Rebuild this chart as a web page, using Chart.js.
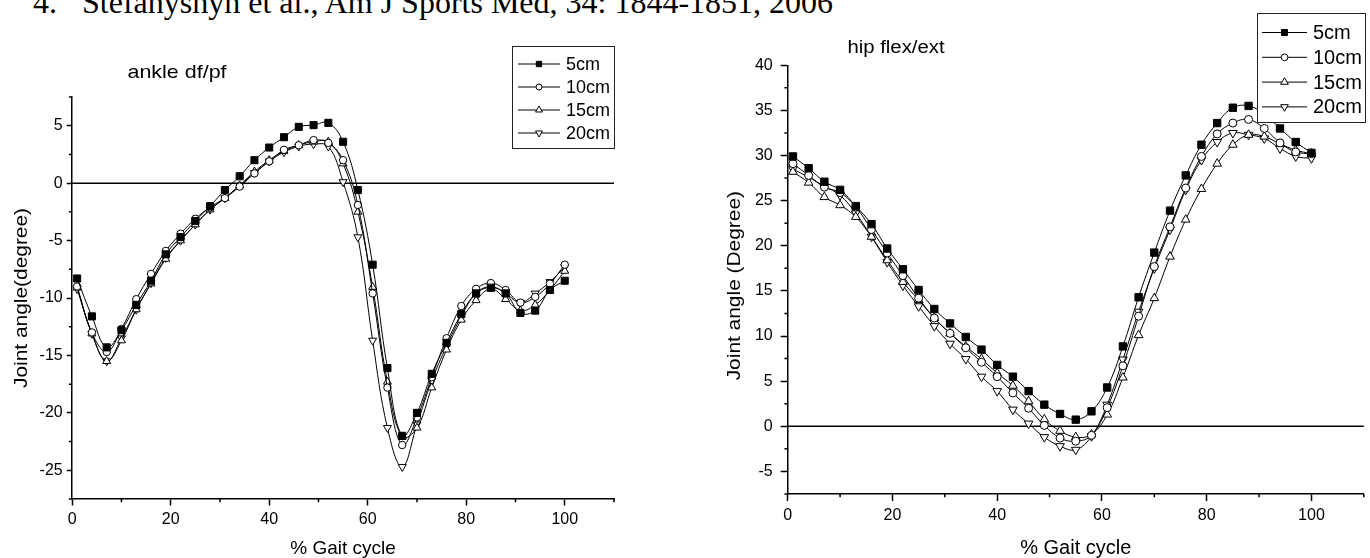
<!DOCTYPE html>
<html>
<head>
<meta charset="utf-8">
<script src="https://cdn.jsdelivr.net/npm/chart.js@4/dist/chart.umd.min.js"></script>
<style>
  html, body { margin: 0; padding: 0; background: #fff; width: 1370px; height: 558px; overflow: hidden; }
  body { position: relative; }
  canvas { position: absolute; top: 0; }
  .ref { position: absolute; top: -14px; font: 32px/32px "Liberation Serif", "Times New Roman", serif; color: #000; white-space: nowrap; }
</style>
</head>
<body>
<div class="ref" style="left:33px">4.</div>
<div class="ref" style="left:82px">Stefanyshyn et al., Am J Sports Med, 34: 1844-1851, 2006</div>
<canvas id="ankle" width="640" height="558" style="left:0"></canvas>
<canvas id="hip" width="670" height="558" style="left:700px"></canvas>
<script>
const FONT = '"Liberation Sans", Arial, sans-serif';

// % gait cycle where each sample was taken
const gaitPct = [1, 4, 7, 10, 13, 16, 19, 22, 25, 28, 31, 34, 37, 40, 43, 46, 49, 52, 55, 58,
                 61, 64, 67, 70, 73, 76, 79, 82, 85, 88, 91, 94, 97, 100];

const seriesLabels = ['5cm', '10cm', '15cm', '20cm'];

// ankle df/pf (degree)
const ankle5  = [-8.3, -11.6, -14.3, -12.8, -10.6, -8.5, -6.2, -4.7, -3.3, -2.0, -0.6, 0.6, 2.0, 3.1, 4.0, 4.9, 5.05, 5.25, 3.6, -0.6,
                 -7.1, -16.1, -22.0, -20.0, -16.6, -13.9, -11.4, -9.6, -9.1, -9.6, -11.3, -11.1, -9.3, -8.5];
const ankle10 = [-9.0, -13.0, -14.7, -12.7, -10.1, -7.9, -5.9, -4.4, -3.1, -2.1, -1.3, -0.3, 0.85, 1.9, 2.9, 3.3, 3.75, 3.5, 2.0, -1.9,
                 -9.6, -17.8, -22.8, -20.4, -16.9, -13.5, -10.7, -9.2, -8.7, -9.3, -10.4, -9.9, -8.75, -7.1];
const ankle15 = [-9.1, -13.1, -15.5, -13.7, -11.0, -8.75, -6.6, -5.0, -3.6, -2.3, -1.3, -0.2, 1.0, 2.0, 2.8, 3.3, 3.6, 3.6, 1.7, -2.5,
                 -9.05, -17.3, -22.1, -21.3, -17.8, -14.5, -11.9, -10.2, -9.2, -10.1, -11.1, -10.6, -9.3, -7.65];
const ankle20 = [-9.2, -13.1, -15.5, -13.5, -11.0, -8.7, -6.5, -5.0, -3.6, -2.3, -1.3, -0.2, 0.9, 1.9, 2.7, 3.2, 3.4, 3.2, 0.1, -4.7,
                 -13.7, -21.3, -24.7, -21.0, -17.2, -14.2, -11.6, -9.6, -9.0, -9.6, -10.4, -9.6, -8.6, -7.3];

// hip flex/ext (degree)
const hip5  = [29.9, 28.6, 27.1, 26.2, 24.4, 22.4, 19.7, 17.4, 15.1, 13.0, 11.4, 9.9, 8.5, 6.8, 5.5, 3.9, 2.4, 1.37, 0.74, 1.66,
               4.3, 8.85, 14.3, 19.25, 23.9, 27.8, 31.2, 33.6, 35.3, 35.5, 34.6, 33.0, 31.5, 30.3];
const hip10 = [29.1, 27.8, 26.5, 25.9, 24.3, 21.8, 19.2, 16.7, 14.2, 12.0, 10.3, 8.7, 7.1, 5.5, 3.7, 2.0, 0.1, -1.3, -1.65, -1.0,
               2.07, 6.7, 12.2, 17.7, 22.1, 26.4, 29.9, 32.4, 33.6, 34.0, 33.0, 31.4, 30.4, 30.2];
const hip15 = [28.2, 27.0, 25.4, 24.5, 23.2, 21.0, 18.4, 16.0, 14.0, 12.0, 10.3, 8.85, 7.45, 5.9, 4.5, 2.77, 0.77, -0.5, -1.2, -0.9,
               1.3, 5.4, 10.1, 14.2, 18.8, 22.9, 26.3, 29.1, 31.2, 32.3, 32.1, 31.3, 30.6, 30.2];
const hip20 = [28.5, 27.6, 26.6, 25.6, 23.6, 21.0, 18.2, 15.6, 13.3, 11.1, 9.15, 7.45, 5.5, 3.9, 1.85, 0.3, -1.2, -2.2, -2.6, -1.1,
               2.4, 7.4, 12.7, 17.5, 21.8, 26.2, 29.5, 31.5, 32.5, 32.3, 31.9, 30.8, 29.9, 29.7];

const markStyles = ['rect', 'circle', 'triangle', 'triangle'];
const markRotation = [0, 0, 0, 180];
const markFill = ['#000', '#fff', '#fff', '#fff'];

function makeDatasets(all, radii) {
  return all.map((vals, i) => ({
    label: seriesLabels[i],
    data: gaitPct.map((x, j) => ({ x: x, y: vals[j] })),
    borderColor: '#000',
    borderWidth: 1,
    tension: 0.4,
    fill: false,
    pointStyle: markStyles[i],
    pointRotation: markRotation[i],
    pointRadius: radii[i],
    pointBackgroundColor: markFill[i],
    pointBorderColor: '#000',
    pointBorderWidth: 1
  }));
}

function stretchText(ctx, text, x, y, size, sx, rot) {
  ctx.save();
  ctx.translate(x, y);
  if (rot) ctx.rotate(rot);
  ctx.scale(sx, 1);
  ctx.font = size + 'px ' + FONT;
  ctx.fillStyle = '#000';
  ctx.textAlign = 'center';
  ctx.textBaseline = 'middle';
  ctx.fillText(text, 0, 0);
  ctx.restore();
}

function marker(ctx, style, rot, r, x, y, fillCol) {
  ctx.beginPath();
  if (style === 'rect') {
    const s = r * Math.SQRT1_2;
    ctx.rect(x - s, y - s, 2 * s, 2 * s);
  } else if (style === 'circle') {
    ctx.arc(x, y, r, 0, Math.PI * 2);
  } else {
    let a = rot * Math.PI / 180;
    for (let k = 0; k < 3; k++) {
      const px = x + Math.sin(a) * r, py = y - Math.cos(a) * r;
      k ? ctx.lineTo(px, py) : ctx.moveTo(px, py);
      a += Math.PI * 2 / 3;
    }
    ctx.closePath();
  }
  ctx.fillStyle = fillCol;
  ctx.fill();
  ctx.strokeStyle = '#000';
  ctx.lineWidth = 1;
  ctx.stroke();
}

function decor(o) {
  return {
    id: 'decor',
    beforeDatasetsDraw(chart) {
      const { ctx, chartArea: a, scales: { y } } = chart;
      const y0 = y.getPixelForValue(0);
      ctx.save();
      ctx.strokeStyle = '#000';
      ctx.lineWidth = 1.5;
      ctx.beginPath();
      ctx.moveTo(a.left, y0);
      ctx.lineTo(a.right, y0);
      ctx.stroke();
      ctx.restore();
    },
    afterDraw(chart) {
      const { ctx, chartArea: a, scales: { x, y } } = chart;
      ctx.save();
      // minor ticks
      ctx.strokeStyle = '#000';
      ctx.lineWidth = 1.5;
      ctx.beginPath();
      x.ticks.forEach(t => {
        if (t.value % 20 === 0) return;
        const px = x.getPixelForValue(t.value);
        ctx.moveTo(px, a.bottom);
        ctx.lineTo(px, a.bottom + o.minor);
      });
      y.ticks.forEach(t => {
        if (Math.abs(t.value % 5) < 1e-9) return;
        const py = y.getPixelForValue(t.value);
        ctx.moveTo(a.left - o.minor, py);
        ctx.lineTo(a.left, py);
      });
      ctx.stroke();

      stretchText(ctx, o.title, o.titleX, o.titleY, o.titleSize, o.titleSx, 0);
      stretchText(ctx, o.yTitle, o.yTitleX, (a.top + a.bottom) / 2 + o.yTitleDy, o.yTitleSize, o.yTitleSx, -Math.PI / 2);

      // legend
      const L = o.legend;
      ctx.fillStyle = '#fff';
      ctx.fillRect(L.x, L.y, L.w, L.h);
      ctx.strokeStyle = '#222';
      ctx.lineWidth = 1;
      ctx.strokeRect(L.x + 0.5, L.y + 0.5, L.w, L.h);
      chart.data.datasets.forEach((ds, i) => {
        const cy = L.y + L.row0 + i * L.gap;
        ctx.strokeStyle = '#000';
        ctx.lineWidth = 1;
        ctx.beginPath();
        ctx.moveTo(L.x + L.line0, cy);
        ctx.lineTo(L.x + L.line1, cy);
        ctx.stroke();
        marker(ctx, ds.pointStyle, ds.pointRotation, L.marks[i], L.x + L.markX, cy, ds.pointBackgroundColor);
        ctx.fillStyle = '#000';
        ctx.font = L.font + 'px ' + FONT;
        ctx.textAlign = 'left';
        ctx.textBaseline = 'middle';
        ctx.fillText(ds.label, L.x + L.textX, cy + 1);
      });
      ctx.restore();
    }
  };
}

function makeChart(id, datasets, o) {
  return new Chart(document.getElementById(id), {
    type: 'line',
    data: { datasets: datasets },
    options: {
      responsive: false,
      animation: false,
      events: [],
      layout: { padding: o.padding },
      plugins: { legend: { display: false }, tooltip: { enabled: false } },
      scales: {
        x: {
          type: 'linear', position: 'bottom', min: 0, max: 110,
          ticks: {
            stepSize: 10, autoSkip: false, maxRotation: 0, padding: o.xPad, color: '#000',
            font: { family: FONT, size: 16 },
            callback: v => (v % 20 === 0 && v <= 100) ? String(v) : ''
          },
          grid: {
            drawOnChartArea: false, drawTicks: true, tickLength: o.xMajor, tickWidth: 1.5,
            tickColor: c => (c.tick && c.tick.value % 20 === 0) ? '#000' : 'rgba(0,0,0,0)'
          },
          border: { display: true, color: '#000', width: 1.5 },
          title: {
            display: true, text: '% Gait cycle', color: '#000', padding: 0,
            font: { family: FONT, size: o.xTitleSize, lineHeight: 1 }
          },
          afterFit: s => { s.height = o.xHeight; }
        },
        y: {
          type: 'linear', position: 'left', min: o.yMin, max: o.yMax,
          ticks: {
            stepSize: 2.5, autoSkip: false, padding: o.yPad, color: '#000',
            font: { family: FONT, size: 16 },
            callback: v => Math.abs(v % 5) < 1e-9 ? String(v) : ''
          },
          grid: {
            drawOnChartArea: false, drawTicks: true, tickLength: o.yMajor, tickWidth: 1.5,
            tickColor: c => (c.tick && Math.abs(c.tick.value % 5) < 1e-9) ? '#000' : 'rgba(0,0,0,0)'
          },
          border: { display: true, color: '#000', width: 1.5 },
          title: { display: false },
          afterFit: s => { s.width = o.yWidth; }
        }
      }
    },
    plugins: [decor(o)]
  });
}

makeChart('ankle', makeDatasets([ankle5, ankle10, ankle15, ankle20], [5, 3.7, 4.6, 4.6]), {
  padding: { left: 0, top: 97, right: 26, bottom: 0 },
  yMin: -27.5, yMax: 7.5, yWidth: 72.2, xHeight: 59,
  xPad: 4, yPad: 4, xMajor: 6.5, yMajor: 5.5, minor: 3.3, xTitleSize: 19,
  title: 'ankle df/pf', titleX: 177, titleY: 73, titleSize: 19, titleSx: 1.13,
  yTitle: 'Joint angle(degree)', yTitleX: 21.5, yTitleDy: 0, yTitleSize: 19, yTitleSx: 1.1,
  legend: { x: 512, y: 46, w: 102, h: 102, row0: 18, gap: 23, line0: 6, line1: 48, markX: 27, textX: 54, font: 18, marks: [3.8, 3, 4, 4] }
});

makeChart('hip', makeDatasets([hip5, hip10, hip15, hip20], [5.2, 4, 5, 5]), {
  padding: { left: 0, top: 65.3, right: 5, bottom: 0 },
  yMin: -7.5, yMax: 40, yWidth: 87.7, xHeight: 64,
  xPad: 5, yPad: 8, xMajor: 7, yMajor: 7, minor: 3.3, xTitleSize: 20,
  title: 'hip flex/ext', titleX: 196, titleY: 48, titleSize: 18, titleSx: 1.13,
  yTitle: 'Joint angle (Degree)', yTitleX: 35, yTitleDy: 6, yTitleSize: 19, yTitleSx: 1.1,
  legend: { x: 557, y: 13, w: 108, h: 109, row0: 19.5, gap: 24.8, line0: 5, line1: 50, markX: 27.5, textX: 56, font: 20, marks: [4.2, 3.4, 4.4, 4.4] }
});
</script>
</body>
</html>
